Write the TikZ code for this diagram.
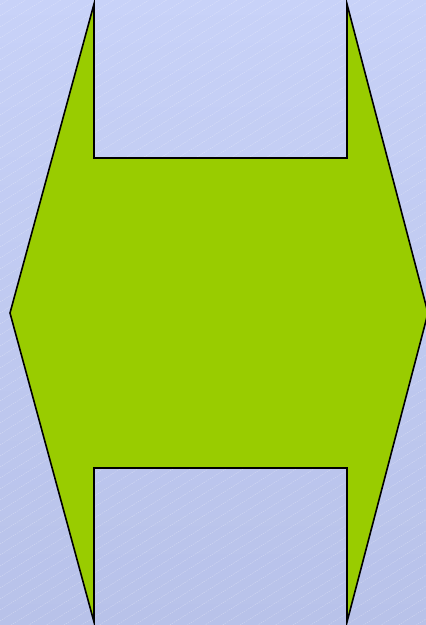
\documentclass[tikz,border=0pt]{standalone}
\begin{document}
\begin{tikzpicture}[x=1pt,y=1pt,
  arrowshape/.style={fill={rgb,255:red,153;green,204;blue,0}, draw=black, line width=1.6pt, line join=miter}]
\definecolor{bgA}{RGB}{200,210,248}
\definecolor{bgB}{RGB}{178,188,228}
\useasboundingbox (0,0) rectangle (426,625);
\shade[left color=bgA, right color=bgA!60!bgB, shading angle=0] (0,0) rectangle (426,625);
\shade[top color=bgA, bottom color=bgB, opacity=0.5] (0,0) rectangle (426,625);
\begin{scope}
\clip (0,0) rectangle (426,625);
\foreach \k in {-700,-689,...,640} {
  \draw[white, opacity=0.35, line width=0.4pt, dash pattern=on 1.5pt off 1pt] (0,\k) -- (426,\k+266);
}
\end{scope}
\path[arrowshape] (94,621) -- (94,467) -- (347,467) -- (347,621) -- (428,312) -- (347,3) -- (347,157) -- (94,157) -- (94,3) -- (10,312) -- cycle;
\end{tikzpicture}
\end{document}
